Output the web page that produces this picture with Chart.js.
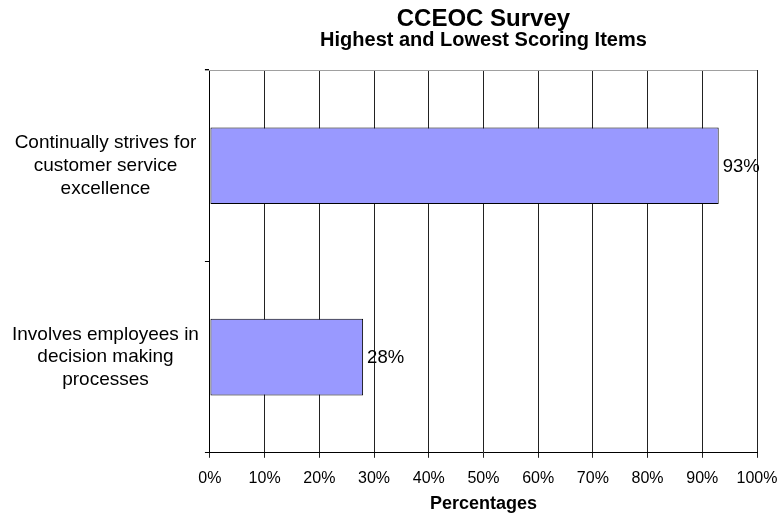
<!DOCTYPE html>
<html>
<head>
<meta charset="utf-8">
<script src="https://cdn.jsdelivr.net/npm/chart.js@4"></script>
<style>
  html, body { margin: 0; padding: 0; background: #fff; }
  #wrap { width: 780px; height: 513px; }
</style>
</head>
<body>
<div id="wrap"><canvas id="survey"></canvas></div>
<script>
const items = [
    ['Continually strives for', 'customer service', 'excellence'],
    ['Involves employees in', 'decision making', 'processes']
];
const scores = [93, 28];
const pctTicks = [0, 10, 20, 30, 40, 50, 60, 70, 80, 90, 100];

const FONT = '"Liberation Sans", Arial, sans-serif';

// value labels at the end of each bar + a thin top border line
const barLabels = {
    id: 'barLabels',
    afterDatasetsDraw(chart) {
        const ctx = chart.ctx;
        const area = chart.chartArea;
        ctx.save();
        ctx.strokeStyle = '#a0a0a0';
        ctx.lineWidth = 1;
        ctx.beginPath();
        ctx.moveTo(area.left - 5, area.top + 0.5);
        ctx.lineTo(area.right, area.top + 0.5);
        ctx.stroke();

        ctx.fillStyle = '#000';
        ctx.font = '18.5px ' + FONT;
        ctx.textAlign = 'left';
        ctx.textBaseline = 'middle';
        chart.getDatasetMeta(0).data.forEach((bar, i) => {
            ctx.fillText(scores[i] + '%', bar.x + 4, bar.y + 1);
        });
        ctx.restore();
    }
};

const ctx2 = document.getElementById('survey').getContext('2d');
const surveyChart = new Chart(ctx2, {
    type: 'bar',
    data: {
        labels: items,
        datasets: [{
            label: 'Percentages',
            data: scores,
            backgroundColor: '#9999FF',
            borderColor: '#000',
            borderWidth: 1,
            borderSkipped: false,
            categoryPercentage: 1,
            barPercentage: 0.4
        }]
    },
    options: {
        indexAxis: 'y',
        responsive: true,
        maintainAspectRatio: false,
        animation: false,
        layout: { padding: { top: 6, right: 0, left: 6, bottom: 0 } },
        plugins: {
            legend: { display: false },
            tooltip: { enabled: false },
            title: {
                display: true,
                fullSize: false,
                text: 'CCEOC Survey',
                color: '#000',
                font: { family: FONT, size: 24, weight: 'bold', lineHeight: 1 },
                padding: { top: 1, bottom: -1 }
            },
            subtitle: {
                display: true,
                fullSize: false,
                text: 'Highest and Lowest Scoring Items',
                color: '#000',
                font: { family: FONT, size: 20, weight: 'bold', lineHeight: 1 },
                padding: { top: 0, bottom: 20 }
            }
        },
        scales: {
            x: {
                min: 0,
                max: 100,
                afterBuildTicks(axis) {
                    axis.ticks = pctTicks.map(v => ({ value: v }));
                },
                afterFit(axis) {
                    axis.paddingRight = 23;
                },
                ticks: {
                    color: '#000',
                    font: { family: FONT, size: 16 },
                    padding: 11,
                    callback: v => v + '%'
                },
                grid: { color: '#222', tickLength: 5, lineWidth: 1 },
                border: { color: '#000', width: 1 },
                title: {
                    display: true,
                    text: 'Percentages',
                    color: '#000',
                    font: { family: FONT, size: 18, weight: 'bold', lineHeight: 1 },
                    padding: { top: -4, bottom: 0 }
                }
            },
            y: {
                ticks: {
                    color: '#000',
                    crossAlign: 'center',
                    font: { family: FONT, size: 19, lineHeight: 1.2 },
                    padding: 6
                },
                grid: { offset: true, drawOnChartArea: false, color: '#000', tickLength: 5 },
                border: { color: '#000', width: 1 }
            }
        }
    },
    plugins: [barLabels]
});
</script>
</body>
</html>
